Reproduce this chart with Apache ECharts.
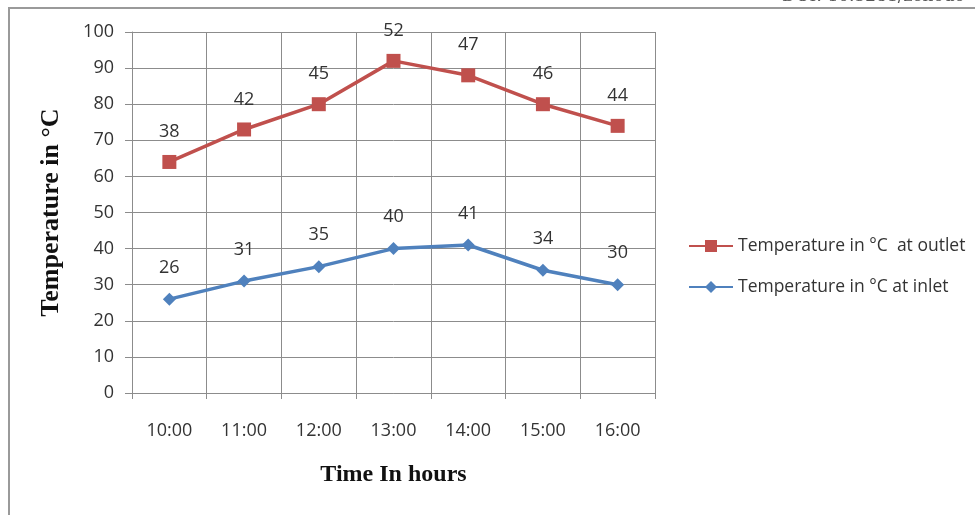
<!DOCTYPE html>
<html><head><meta charset="utf-8">
<script src="https://cdn.jsdelivr.net/npm/echarts@6/dist/echarts.min.js"></script>
<style>html,body{margin:0;padding:0;background:#fff;}#c{width:975px;height:515px;}</style>
</head><body><div id="c"></div>
<script>
const categories = ['10:00','11:00','12:00','13:00','14:00','15:00','16:00'];
const outletValues = [64, 73, 80, 92, 88, 80, 74];
const outletLabels = [38, 42, 45, 52, 47, 46, 44];
const inletValues = [26, 31, 35, 40, 41, 34, 30];
const inletLabels = [26, 31, 35, 40, 41, 34, 30];
const yTicks = [0,10,20,30,40,50,60,70,80,90,100];

const grid = '#8c8c8c';
const chart = echarts.init(document.getElementById('c'));
chart.setOption({
  animation: false,
  backgroundColor: '#fff',
  graphic: [
    {type:'rect', shape:{x:9, y:8, width:990, height:520}, style:{fill:'none', stroke:'#9a9a9a', lineWidth:2}},
    {type:'text', left: 782, top: -12, style:{text:'DOI: 10.5281/zenodo', font:'17px "DejaVu Serif"', fill:'#555'}}
  ],
  grid: {left: 132, top: 32, width: 523, height: 361},
  legend: {
    orient: 'vertical', left: 683, top: 232, itemGap: 23, itemWidth: 44, itemHeight: 15,
    textStyle: {fontFamily: 'Open Sans', fontSize: 17.5, color: '#333'},
    data: ['Temperature in °C  at outlet', 'Temperature in °C at inlet']
  },
  xAxis: {
    type: 'category', data: categories, boundaryGap: true,
    name: 'Time In hours', nameLocation: 'middle', nameGap: 70,
    nameTextStyle: {fontFamily: '"Liberation Serif"', fontWeight: 'bold', fontSize: 24, color: '#111'},
    axisLine: {lineStyle: {color: grid}},
    axisTick: {show: true, length: 6, lineStyle: {color: grid}},
    axisLabel: {margin: 29, fontFamily: 'Open Sans', fontSize: 18, color: '#333'},
    splitLine: {show: true, lineStyle: {color: grid}}
  },
  yAxis: {
    type: 'value', min: yTicks[0], max: yTicks[yTicks.length-1], interval: 10,
    name: 'Temperature in °C', nameLocation: 'middle', nameGap: 68, nameRotate: 90,
    nameTextStyle: {fontFamily: '"Liberation Serif"', fontWeight: 'bold', fontSize: 26, color: '#111'},
    axisLine: {show: true, lineStyle: {color: grid}},
    axisTick: {show: true, length: 7, lineStyle: {color: grid}},
    axisLabel: {margin: 18, fontFamily: 'Open Sans', fontSize: 18, color: '#333'},
    splitLine: {show: true, lineStyle: {color: grid}}
  },
  series: [
    {
      name: 'Temperature in °C  at outlet', type: 'line', data: outletValues,
      symbol: 'rect', symbolSize: 14,
      itemStyle: {color: '#C0504D'}, lineStyle: {color: '#C0504D', width: 3.5},
      label: {show: true, position: 'top', distance: 14, fontFamily: 'Open Sans', fontSize: 18, color: '#333',
        formatter: p => outletLabels[p.dataIndex]}
    },
    {
      name: 'Temperature in °C at inlet', type: 'line', data: inletValues,
      symbol: 'diamond', symbolSize: 13,
      itemStyle: {color: '#4F81BD'}, lineStyle: {color: '#4F81BD', width: 3.5},
      label: {show: true, position: 'top', distance: 16, fontFamily: 'Open Sans', fontSize: 18, color: '#333',
        formatter: p => inletLabels[p.dataIndex]}
    }
  ]
});
</script></body></html>
